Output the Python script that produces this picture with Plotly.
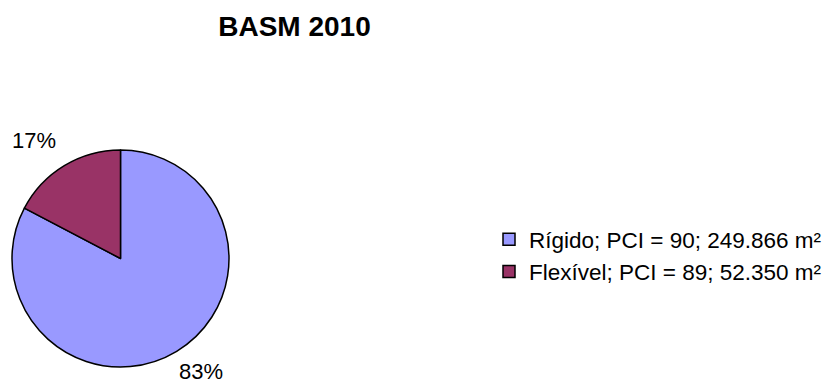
import math
import plotly.graph_objects as go

# Pavement areas by type (m²)
labels = ["Rígido; PCI = 90; 249.866 m²", "Flexível; PCI = 89; 52.350 m²"]
areas = [249.866, 52.350]
colors = ["#9999FF", "#993366"]
title_text = "BASM 2010"

W, H = 839, 384
cx, cy, r = 120.5, 258.5, 108.5  # pie centre and radius in pixels

fig = go.Figure()
fig.add_trace(go.Pie(
    labels=labels,
    values=areas,
    sort=False,
    direction="clockwise",
    rotation=0,
    textinfo="none",
    hoverinfo="label+percent",
    marker=dict(colors=colors, line=dict(color="black", width=1.5)),
    domain=dict(x=[(cx - r) / W, (cx + r) / W],
                y=[(H - cy - r) / H, (H - cy + r) / H]),
))

# Percentage labels placed just outside each slice, along its bisector
total = sum(areas)
cum = 0.0
for v in areas:
    frac = v / total
    mid = (cum + frac / 2) * 2 * math.pi
    cum += frac
    s, c = math.sin(mid), math.cos(mid)
    d = 1.12 * r
    px, py = cx + d * s, cy - d * c
    lower = c <= 0
    fig.add_annotation(
        x=px / W, y=1 - py / H, xref="paper", yref="paper",
        text=f"{round(frac * 100)}%", showarrow=False,
        xanchor="left" if s >= 0 else "right",
        yanchor="bottom" if c > 0 else "top",
        xshift=-6 if lower else 0, yshift=5 if lower else 0,
        font=dict(size=22, color="black"),
    )

fig.update_layout(
    width=W, height=H,
    margin=dict(l=0, r=0, t=0, b=0),
    paper_bgcolor="white",
    plot_bgcolor="white",
    font=dict(family="Liberation Sans, Arial, sans-serif", color="black"),
    title=dict(text=f"<b>{title_text}</b>", x=294.5 / W, xanchor="center",
               y=1 - 26 / H, yanchor="middle", yref="container",
               font=dict(size=28, color="black")),
    showlegend=True,
    legend=dict(x=489 / W, xanchor="left", y=1 - 255.5 / H, yanchor="middle",
                font=dict(size=22.5, color="black"), bgcolor="rgba(0,0,0,0)",
                itemwidth=30),
)

fig.write_html("out.html")
